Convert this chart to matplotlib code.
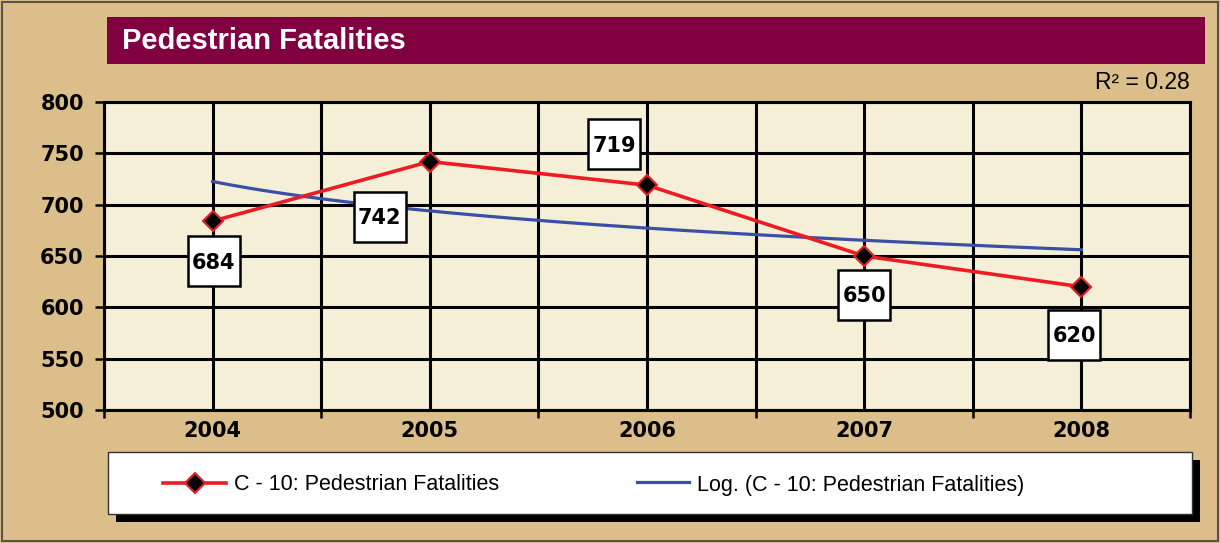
import numpy as np
import matplotlib.pyplot as plt
from matplotlib.patches import Rectangle
from matplotlib.lines import Line2D
from matplotlib.transforms import IdentityTransform

# chart data
years = ['2004', '2005', '2006', '2007', '2008']
fatalities = [684, 742, 719, 650, 620]
yticks = [500, 550, 600, 650, 700, 750, 800]
r2_text = 'R\u00b2 = 0.28'

# where each value box sits relative to its point (pixels, +y is up)
label_offsets = [(1, -40), (-50, -55), (-33, 41), (0, -39), (-7, -48)]

W, H = 1220, 543
TAN = '#DBBE89'
CREAM = '#F5EFD8'
RED = '#ED1C24'
BLUE = '#3A4FA6'

fig = plt.figure(figsize=(W / 100, H / 100), dpi=100, facecolor=TAN)
ax = fig.add_axes([104 / W, 1 - 410 / H, 1086 / W, 308 / H], facecolor=CREAM)

x = np.arange(len(years))

# logarithmic trend line (Excel style: y = a + b ln(n), n = 1..5)
n = x + 1
b, a = np.polyfit(np.log(n), fatalities, 1)
xt = np.linspace(0, len(years) - 1, 200)
ax.plot(xt, a + b * np.log(xt + 1), color=BLUE, lw=2.3, zorder=3)

ax.plot(x, fatalities, color=RED, lw=2.6, marker='D', ms=10,
        mfc='black', mec=RED, mew=1.5, zorder=4)

ax.set_xlim(-0.5, len(years) - 0.5)
ax.set_ylim(500, 800)
ax.set_xticks(np.arange(-0.5, len(years), 1.0), labels=[])
ax.set_xticks(x, labels=years, minor=True, fontsize=15,
              fontweight='bold', family='DejaVu Sans')
ax.set_yticks(yticks, labels=[str(t) for t in yticks], fontsize=15,
              fontweight='bold', family='DejaVu Sans')
ax.grid(which='both', axis='x', color='black', lw=2.2)
ax.grid(which='major', axis='y', color='black', lw=2.2)
ax.set_axisbelow(True)
for sp in ax.spines.values():
    sp.set_linewidth(2.2)
ax.tick_params(axis='y', length=6.5, width=1.8, pad=8)
ax.tick_params(axis='x', which='major', length=6, width=1.8)
ax.tick_params(axis='x', which='minor', length=0, pad=8)

# value boxes
ident = IdentityTransform()
for i, (v, (dx, dy)) in enumerate(zip(fatalities, label_offsets)):
    px, py = ax.transData.transform((x[i], v))
    cx, cy = px + dx, py + dy
    fig.add_artist(Rectangle((cx - 26, cy - 25), 52, 50, transform=ident,
                             facecolor='white', edgecolor='black', lw=1.8, zorder=5))
    fig.text(cx, cy - 7.5, str(v), transform=ident, ha='center', va='baseline',
             fontsize=15, fontweight='bold', family='DejaVu Sans', zorder=6)

# title bar
fig.add_artist(Rectangle((107 / W, 1 - 64 / H), 1098 / W, 47 / H,
                         transform=fig.transFigure, facecolor='#800040', lw=0))
fig.text(122 / W, 1 - 41 / H, 'Pedestrian Fatalities', color='white',
         fontsize=21, fontweight='bold', family='Liberation Sans', va='center')

fig.text(1190 / W, 1 - 82 / H, r2_text, ha='right', va='center',
         fontsize=16.5, family='Liberation Sans')

# legend box with black shadow
fig.add_artist(Rectangle((116, H - 522), 1084, 62, transform=ident,
                         facecolor='black', lw=0, zorder=2))
fig.add_artist(Rectangle((108, H - 514), 1084, 62, transform=ident,
                         facecolor='white', edgecolor='#333333', lw=1, zorder=3))
ly = H - 483
fig.add_artist(Line2D([163, 194.5, 226], [ly, ly, ly], transform=ident, color=RED,
                      lw=2.6, marker='D', ms=10, mfc='black', mec=RED, mew=1.5,
                      markevery=[1], zorder=4))
fig.text(234, ly - 2, 'C - 10: Pedestrian Fatalities', transform=ident, va='center',
         fontsize=15.5, family='Liberation Sans', zorder=4)
fig.add_artist(Line2D([637, 689], [ly + 1, ly + 1], transform=ident, color=BLUE,
                      lw=2.3, zorder=4))
fig.text(697, ly - 2, 'Log. (C - 10: Pedestrian Fatalities)', transform=ident,
         va='center', fontsize=15.5, family='Liberation Sans', zorder=4)

# outer frame
fig.add_artist(Rectangle((2, 2), W - 4, H - 4, transform=ident, facecolor='none',
                         edgecolor='#555555', lw=1.5, zorder=7))

fig.savefig('out.png', dpi=100, facecolor=TAN)
